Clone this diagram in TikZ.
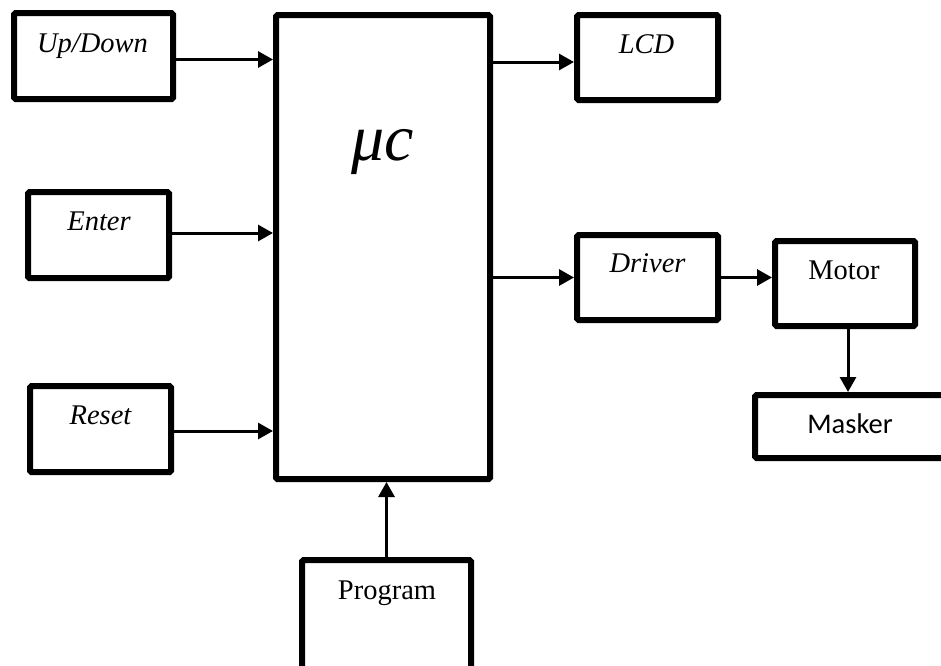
\documentclass[tikz,border=0pt]{standalone}
\usepackage{fontspec}
\setmainfont{Liberation Serif}
\newfontfamily\carl{Carlito}
\usetikzlibrary{arrows.meta}
\tikzset{
  blk/.style={draw, line width=6pt, rounded corners=1.5pt, inner sep=0pt, fill=white},
  lbl/.style={anchor=base, inner sep=0pt, font=\fontsize{28.5}{30}\selectfont\itshape},
  lblup/.style={anchor=base, inner sep=0pt, font=\fontsize{28.5}{30}\selectfont},
  conn/.style={line width=3pt, -{Triangle[length=15pt,width=16pt]}}
}
\begin{document}
\begin{tikzpicture}[x=1pt,y=-1pt]
\useasboundingbox (0,0) rectangle (941,665);
\clip (0,0) rectangle (941,665);
% boxes
\node[blk, minimum width=159pt, minimum height=86pt] (ud) at (93.5,56) {};
\node[blk, minimum width=141pt, minimum height=86pt] (en) at (98.5,235) {};
\node[blk, minimum width=141pt, minimum height=86pt] (rs) at (100.5,429) {};
\node[blk, minimum width=214pt, minimum height=464pt] (mc) at (383,247) {};
\node[blk, minimum width=141pt, minimum height=85pt] (lcd) at (647.5,57.5) {};
\node[blk, minimum width=141pt, minimum height=85pt] (drv) at (647.5,277.5) {};
\node[blk, minimum width=140pt, minimum height=85pt] (mot) at (845,283.5) {};
\node[blk, minimum width=192pt, minimum height=63pt] (msk) at (851,426.5) {};
\node[blk, minimum width=169pt, minimum height=117pt] (prg) at (386.5,618.5) {};
% labels
\node[lbl] (udt) at (92.5,52) {Up/Down};
\node[lbl] (ent) at (99,230) {Enter};
\node[lbl] (rst) at (100.5,424) {Reset};
\node[lbl] (lcdt) at (646.5,53) {LCD};
\node[lbl] (drvt) at (647.5,272) {Driver};
\node[lblup] (mott) at (844,279) {Motor};
\node[anchor=base, inner sep=0pt, font=\fontsize{28.5}{30}\selectfont\carl] (mskt) at (850,433) {Masker};
\node[lblup] (prgt) at (387,599) {Program};
\node[anchor=base, inner sep=0pt, font=\fontsize{66}{68}\selectfont\itshape] (mct) at (382.5,160) {μc};
% connectors
\draw[conn] ([yshift=-3.5pt]ud.east) -- ([yshift=-3.5pt]ud.east -| mc.west);
\draw[conn] ([yshift=2pt]en.east) -- ([yshift=2pt]en.east -| mc.west);
\draw[conn] ([yshift=-2pt]rs.east) -- ([yshift=-2pt]rs.east -| mc.west);
\draw[conn] ([yshift=-4.5pt]lcd.west -| mc.east) -- ([yshift=-4.5pt]lcd.west);
\draw[conn] (drv.west -| mc.east) -- (drv.west);
\draw[conn] (drv.east) -- (drv.east -| mot.west);
\draw[conn] ([xshift=3pt]mot.south) -- ([xshift=3pt]mot.south |- msk.north);
\draw[conn] (prg.north) -- (prg.north |- mc.south);
\end{tikzpicture}
\end{document}
